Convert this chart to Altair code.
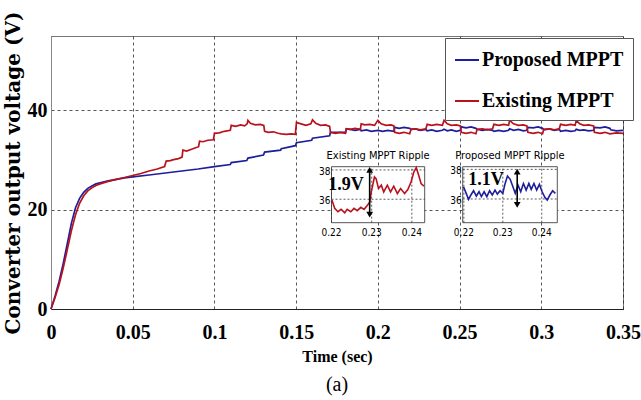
import altair as alt
import pandas as pd

# Converter output voltage traces: time (s) and voltage (V)
proposed_t = [0, 0.0025, 0.005, 0.0075, 0.01, 0.0125, 0.015, 0.0175, 0.02, 0.0225, 0.025, 0.0275,
              0.03, 0.035, 0.04, 0.045, 0.05, 0.06, 0.07, 0.08, 0.09, 0.1, 0.1097, 0.1103, 0.1198,
              0.1205, 0.13, 0.1307, 0.1405, 0.1409, 0.1495, 0.1502, 0.1595, 0.160, 0.1705, 0.171,
              0.1802, 0.1807, 0.183, 0.186, 0.1893, 0.1898, 0.193, 0.196, 0.2, 0.203, 0.206, 0.2098,
              0.2103, 0.213, 0.216, 0.2195, 0.2203, 0.223, 0.226, 0.2294, 0.2302, 0.233, 0.236,
              0.2395, 0.2405, 0.2425, 0.245, 0.248, 0.2505, 0.251, 0.254, 0.257, 0.26, 0.2607,
              0.264, 0.267, 0.2702, 0.271, 0.274, 0.277, 0.28, 0.2806, 0.283, 0.286, 0.289, 0.2912,
              0.2918, 0.295, 0.298, 0.3008, 0.3015, 0.305, 0.308, 0.311, 0.3118, 0.315, 0.318,
              0.3207, 0.3214, 0.3235, 0.326, 0.329, 0.332, 0.3325, 0.336, 0.339, 0.342, 0.3425,
              0.346, 0.35]
proposed_v = [0, 2.6, 5.6, 9.2, 13.2, 17.3, 20.4, 22.3, 23.5, 24.3, 24.8, 25.2,
              25.4, 25.8, 26.1, 26.4, 26.6, 27.0, 27.4, 27.8, 28.2, 28.7, 29.1, 29.5, 29.9,
              30.4, 31.0, 31.6, 32.0, 32.3, 32.9, 33.5, 34.0, 34.4, 34.9, 35.6,
              35.6, 36.3, 36.2, 36.0, 36.2, 35.9, 36.1, 35.8, 36.0, 35.8, 36.0, 35.8,
              36.6, 36.4, 36.6, 36.4, 36.2, 36.3, 36.0, 36.2, 35.9, 36.1, 35.8,
              36.0, 36.2, 35.9, 36.1, 35.8, 36.0, 36.7, 36.5, 36.7, 36.4, 36.2,
              36.0, 36.2, 36.0, 35.8, 36.0, 35.8, 36.0, 36.3, 36.0, 36.2, 35.9, 36.0,
              36.6, 36.5, 36.7, 36.4, 36.1, 36.3, 36.0, 36.2, 35.8, 36.0, 35.8,
              35.9, 36.2, 36.0, 36.1, 35.9, 36.0, 36.6, 36.5, 36.7, 36.4, 36.1,
              35.9, 36.0]

existing_t = [0, 0.0025, 0.005, 0.0075, 0.01, 0.0125, 0.015, 0.0175, 0.02, 0.0225, 0.025, 0.0275,
              0.03, 0.035, 0.04, 0.045, 0.05, 0.055, 0.06, 0.065, 0.0695, 0.0705, 0.073, 0.075,
              0.078, 0.0802, 0.0807, 0.083, 0.086, 0.0885, 0.0903, 0.0909, 0.093, 0.096, 0.0994,
              0.1, 0.103, 0.106, 0.1097, 0.1103, 0.113, 0.116, 0.1185, 0.12, 0.1205, 0.122, 0.125,
              0.128, 0.1302, 0.1307, 0.133, 0.136, 0.139, 0.1409, 0.144, 0.147, 0.1495, 0.1502,
              0.153, 0.156, 0.159, 0.160, 0.162, 0.165, 0.168, 0.1705, 0.171, 0.174, 0.177, 0.1802,
              0.1807, 0.183, 0.186, 0.1893, 0.1898, 0.192, 0.195, 0.198, 0.2, 0.202, 0.205, 0.208,
              0.2098, 0.2103, 0.213, 0.216, 0.2195, 0.2203, 0.223, 0.226, 0.2294, 0.2302, 0.233,
              0.236, 0.2395, 0.2405, 0.2425, 0.245, 0.248, 0.2505, 0.251, 0.254, 0.257, 0.26,
              0.2607, 0.264, 0.267, 0.2702, 0.271, 0.274, 0.277, 0.28, 0.2806, 0.283, 0.286, 0.289,
              0.2912, 0.2918, 0.295, 0.298, 0.3008, 0.3015, 0.305, 0.308, 0.311, 0.3118, 0.315,
              0.318, 0.3207, 0.3214, 0.3235, 0.326, 0.329, 0.332, 0.3325, 0.336, 0.339, 0.342,
              0.346, 0.35]
existing_v = [0, 2.3, 5.0, 8.3, 12.0, 15.8, 19.0, 21.3, 22.8, 23.8, 24.4, 24.9,
              25.2, 25.7, 26.1, 26.5, 26.9, 27.3, 27.8, 28.2, 28.7, 29.8, 29.9, 30.1,
              30.3, 30.6, 32.0, 31.8, 32.2, 32.5, 32.7, 33.8, 33.7, 34.0, 34.1,
              35.4, 35.5, 35.8, 36.0, 37.0, 36.8, 37.1, 36.9, 37.3, 38.0, 37.4, 37.1,
              37.2, 37.0, 35.8, 35.6, 35.7, 35.4, 35.3, 35.2, 35.3, 35.2, 37.6,
              37.3, 37.0, 37.3, 38.1, 37.4, 37.0, 37.1, 36.8, 35.6, 35.4, 35.6, 35.4,
              36.3, 36.2, 36.4, 36.2, 37.3, 37.1, 37.2, 37.0, 38.0, 37.3, 37.0, 37.1,
              36.9, 35.6, 35.4, 35.6, 35.3, 36.2, 36.3, 36.1, 36.3, 37.2, 37.0,
              37.2, 37.0, 38.0, 37.3, 37.0, 37.1, 36.9, 35.6, 35.4, 35.6, 35.3,
              36.2, 36.3, 36.1, 36.3, 37.2, 37.0, 37.2, 37.0, 38.0, 37.3, 37.0, 37.1,
              36.9, 35.6, 35.4, 35.6, 35.3, 36.2, 36.3, 36.1, 36.3, 37.2, 37.0,
              37.2, 37.0, 38.0, 37.3, 37.0, 37.1, 36.9, 35.6, 35.4, 35.6, 35.3,
              35.5, 35.4]

# Zoomed ripple windows
existing_zoom_t = [0.2201, 0.2208, 0.2216, 0.2224, 0.2233, 0.2239, 0.2248, 0.2256, 0.2264, 0.2273,
                   0.2281, 0.2289, 0.2295, 0.2299, 0.2307, 0.2311, 0.2317, 0.2324, 0.2330, 0.2339,
                   0.2347, 0.2355, 0.2364, 0.2372, 0.2382, 0.2390, 0.2398, 0.2405, 0.2411, 0.2417,
                   0.2423, 0.2430]
existing_zoom_v = [35.95, 35.38, 35.15, 35.31, 35.08, 35.31, 35.15, 35.38, 35.22, 35.45,
                   35.31, 35.57, 35.80, 36.50, 37.52, 37.41, 36.73, 36.96, 36.50, 36.96,
                   36.50, 36.89, 36.39, 36.73, 36.39, 36.66, 37.18, 37.86, 38.16, 37.64,
                   37.07, 36.89]
proposed_zoom_t = [0.2199, 0.2206, 0.2212, 0.2218, 0.2225, 0.2232, 0.2239, 0.2245, 0.2252, 0.2259,
                   0.2266, 0.2273, 0.2280, 0.2286, 0.2293, 0.2300, 0.2306, 0.2312, 0.2319, 0.2326,
                   0.2332, 0.2339, 0.2346, 0.2353, 0.2360, 0.2367, 0.2373, 0.2380, 0.2387, 0.2394,
                   0.2401, 0.2408, 0.2414, 0.2421, 0.2428, 0.2435]
proposed_zoom_v = [36.83, 36.38, 35.98, 36.27, 36.56, 36.20, 36.49, 36.16, 36.49, 36.16,
                   36.56, 36.27, 36.60, 36.33, 36.56, 36.38, 37.05, 37.55, 37.33, 36.83,
                   36.38, 36.94, 36.49, 37.05, 36.60, 37.05, 36.65, 37.05, 36.60, 36.99,
                   36.49, 36.11, 35.93, 36.27, 36.56, 36.38]

series_names = ["Proposed MPPT", "Existing MPPT"]
series_colors = ["#1e1e9c", "#b8121c"]
x_ticks = [0, 0.05, 0.1, 0.15, 0.2, 0.25, 0.3, 0.35]
y_ticks = [0, 20, 40]
zoom_x_ticks = [0.22, 0.23, 0.24]
zoom_x_labels = ["0.22", "0.23", "0.24"]
zoom_y_ticks = [36, 38]
zoom_y_labels = ["36", "38"]

SERIF = "Liberation Serif"
NARROW = "DejaVu Sans Condensed, Liberation Sans Narrow, Arial Narrow, Liberation Sans, sans-serif"

W, H = 572, 273

main_df = pd.concat([
    pd.DataFrame({"t": proposed_t, "v": proposed_v, "series": series_names[0]}),
    pd.DataFrame({"t": existing_t, "v": existing_v, "series": series_names[1]}),
], ignore_index=True)

traces = alt.Chart(main_df).mark_line(strokeWidth=1.7).encode(
    x=alt.X("t:Q",
            scale=alt.Scale(domain=[0, 0.35], nice=False, zero=False),
            axis=alt.Axis(values=x_ticks, format="~g", title="Time (sec)", labelFlush=False,
                          labelFont=SERIF, labelFontWeight="bold", labelFontSize=20,
                          labelPadding=13, titleFont=SERIF, titleFontWeight="bold",
                          titleFontSize=16, titlePadding=6, ticks=False,
                          domainColor="#222222", grid=True)),
    y=alt.Y("v:Q",
            scale=alt.Scale(domain=[0, 55], nice=False, zero=True),
            axis=alt.Axis(values=y_ticks, title="Converter output voltage (V)",
                          labelFont=SERIF, labelFontWeight="bold", labelFontSize=20,
                          labelPadding=4, titleFont="DejaVu Serif", titleFontWeight="bold",
                          titleFontSize=20, titlePadding=4, ticks=False,
                          domainColor="#888888", grid=True)),
    color=alt.Color("series:N",
                    scale=alt.Scale(domain=series_names, range=series_colors),
                    legend=alt.Legend(title=None, orient="none", legendX=394, legendY=2,
                                      symbolType="stroke", symbolSize=576,
                                      symbolStrokeWidth=2, labelFont=SERIF,
                                      labelFontWeight="bold", labelFontSize=20,
                                      labelColor="black", labelLimit=0, labelOffset=2,
                                      rowPadding=18, padding=9, fillColor="white",
                                      strokeColor="#555555")),
)


def ripple_inset(t, v, color, x_dom, y_dom, x_px, y_px, title, swing, swing_at, arrow_t, arrow_v):
    xs = alt.Scale(domain=x_dom, range=x_px, nice=False, zero=False)
    ys = alt.Scale(domain=y_dom, range=y_px, nice=False, zero=False)

    def X(f):
        return alt.X(f, type="quantitative", scale=xs, axis=None)

    def Y(f):
        return alt.Y(f, type="quantitative", scale=ys, axis=None)

    frame_df = pd.DataFrame({"x0": [x_dom[0]], "x1": [x_dom[1]],
                             "y0": [y_dom[0]], "y1": [y_dom[1]]})
    frame = alt.Chart(frame_df).mark_rect(fill="white", stroke="#555555", strokeWidth=1).encode(
        x=X("x0"), x2="x1", y=Y("y0"), y2="y1")

    hgrid = alt.Chart(pd.DataFrame({"y": zoom_y_ticks, "x0": x_dom[0], "x1": x_dom[1]})).mark_rule(
        color="#333333", strokeDash=[2, 2], strokeWidth=0.8).encode(
        y=Y("y"), x=X("x0"), x2="x1")
    vgrid = alt.Chart(pd.DataFrame({"x": zoom_x_ticks, "y0": y_dom[0], "y1": y_dom[1]})).mark_rule(
        color="#333333", strokeDash=[2, 2], strokeWidth=0.8).encode(
        x=X("x"), y=Y("y0"), y2="y1")

    trace = alt.Chart(pd.DataFrame({"t": t, "v": v})).mark_line(
        color=color, strokeWidth=1.6).encode(x=X("t"), y=Y("v"))

    xlab = alt.Chart(pd.DataFrame({"x": zoom_x_ticks, "lab": zoom_x_labels, "y": y_dom[0]})).mark_text(
        font=NARROW, fontSize=10, baseline="top", dy=5, color="black").encode(
        x=X("x"), y=Y("y"), text="lab:N")
    ylab = alt.Chart(pd.DataFrame({"y": zoom_y_ticks, "lab": zoom_y_labels, "x": x_dom[0]})).mark_text(
        font=NARROW, fontSize=10, align="right", baseline="middle", dx=-1, dy=2,
        color="black").encode(x=X("x"), y=Y("y"), text="lab:N")

    head = alt.Chart(pd.DataFrame({"x": [sum(x_dom) / 2], "y": [y_dom[1]], "lab": [title]})).mark_text(
        font=NARROW, fontSize=11, baseline="bottom", dy=-6, color="black").encode(
        x=X("x"), y=Y("y"), text="lab:N")

    swing_lab = alt.Chart(pd.DataFrame({"x": [swing_at[0]], "y": [swing_at[1]], "lab": [swing]})).mark_text(
        font=SERIF, fontWeight="bold", fontSize=18, color="black").encode(
        x=X("x"), y=Y("y"), text="lab:N")

    shaft = alt.Chart(pd.DataFrame({"x": [arrow_t], "y0": [arrow_v[0]], "y1": [arrow_v[1]]})).mark_rule(
        color="black", strokeWidth=1.6).encode(x=X("x"), y=Y("y0"), y2="y1")
    heads = alt.Chart(pd.DataFrame({"x": [arrow_t, arrow_t], "y": list(arrow_v),
                                    "shape": ["triangle-down", "triangle-up"]})).mark_point(
        filled=True, color="black", size=45, opacity=1).encode(
        x=X("x"), y=Y("y"),
        shape=alt.Shape("shape:N", scale=None, legend=None))

    return alt.layer(frame, hgrid, vgrid, trace, xlab, ylab, head, swing_lab, shaft, heads)


existing_inset = ripple_inset(
    existing_zoom_t, existing_zoom_v, series_colors[1],
    x_dom=[0.22, 0.2432], y_dom=[34.4, 38.22],
    x_px=[280.5, 373.7], y_px=[186.7, 130.7],
    title="Existing MPPT Ripple", swing="1.9V", swing_at=(0.2236, 37.0),
    arrow_t=0.2295, arrow_v=(34.95, 38.0))

proposed_inset = ripple_inset(
    proposed_zoom_t, proposed_zoom_v, series_colors[0],
    x_dom=[0.2197, 0.2440], y_dom=[34.4, 38.18],
    x_px=[411.7, 506.3], y_px=[186.7, 130.7],
    title="Proposed MPPT Ripple", swing="1.1V", swing_at=(0.2257, 37.25),
    arrow_t=0.2337, arrow_v=(35.6, 37.85))

chart = alt.layer(traces, existing_inset, proposed_inset).resolve_scale(
    x="independent", y="independent"
).properties(
    width=W, height=H,
    autosize=alt.AutoSizeParams(type="none"),
    padding={"left": 51, "top": 36, "right": 641 - 51 - W, "bottom": 400 - 36 - H},
    title=alt.TitleParams("(a)", orient="bottom", anchor="middle", font=SERIF,
                          fontSize=20, fontWeight="normal", color="black", offset=11),
    background="white",
).configure_view(
    stroke="#777777", strokeWidth=1
).configure_axis(
    gridColor="#222222", gridDash=[3, 3], gridOpacity=0.85, gridWidth=0.9,
    labelColor="black", titleColor="black"
)

chart.save("out.html", embed_options={"renderer": "svg", "actions": False})
